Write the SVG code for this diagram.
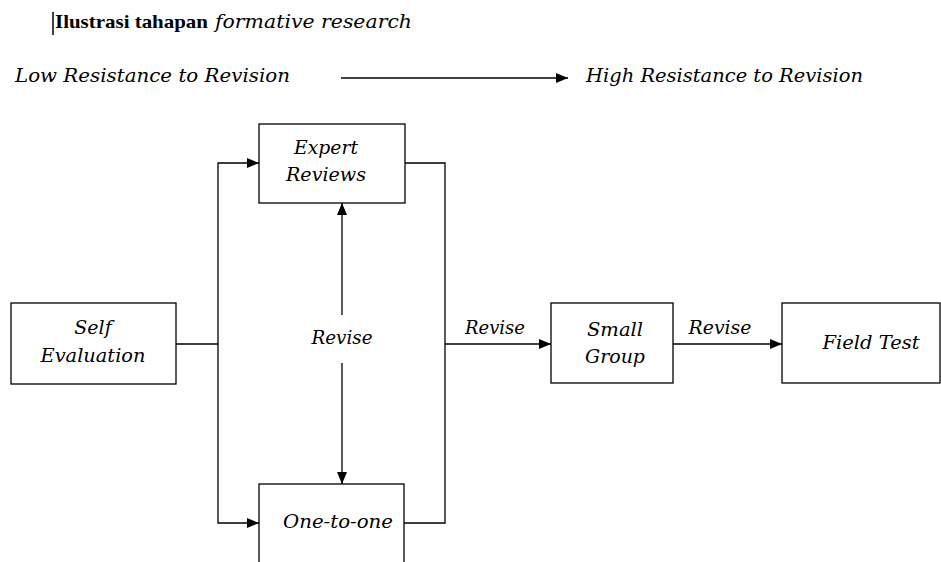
<svg xmlns="http://www.w3.org/2000/svg" width="941" height="562" viewBox="0 0 941 562">
<style>
.t{font-family:"DejaVu Serif","Liberation Serif",serif;font-style:italic;font-size:19px;fill:#000}
.b{fill:#fff;stroke:#000;stroke-width:1.3}
.c{fill:none;stroke:#000;stroke-width:1.3}
</style>
<defs>
<marker id="ah" viewBox="0 0 12 10" refX="12" refY="5" markerWidth="12" markerHeight="10" markerUnits="userSpaceOnUse" orient="auto"><path d="M0,0 L12,5 L0,10 z" fill="#000"/></marker>
</defs>
<rect width="941" height="562" fill="#fff"/>
<g id="title">
<line x1="53" y1="12" x2="53" y2="35" stroke="#000" stroke-width="1.5"/>
<text x="55" y="28" font-family="Liberation Serif,serif" font-weight="bold" font-size="19" textLength="153" lengthAdjust="spacingAndGlyphs">Ilustrasi tahapan</text>
<text x="215" y="28" class="t" textLength="197" lengthAdjust="spacingAndGlyphs">formative research</text>
</g>
<g id="scale">
<text x="15" y="82" class="t" textLength="275" lengthAdjust="spacingAndGlyphs">Low Resistance to Revision</text>
<text x="586" y="82" class="t" textLength="277" lengthAdjust="spacingAndGlyphs">High Resistance to Revision</text>
</g>
<g id="connectors">
<line x1="341" y1="78" x2="568" y2="78" class="c" marker-end="url(#ah)"/>
<polyline points="176,344 218,344" class="c"/>
<polyline points="218,344 218,163 259,163" class="c" marker-end="url(#ah)"/>
<polyline points="218,344 218,523 259,523" class="c" marker-end="url(#ah)"/>
<polyline points="405,163 445,163 445,523 404,523" class="c"/>
<line x1="342" y1="315" x2="342" y2="203" class="c" marker-end="url(#ah)"/>
<line x1="342" y1="363" x2="342" y2="484" class="c" marker-end="url(#ah)"/>
<line x1="445" y1="344" x2="551" y2="344" class="c" marker-end="url(#ah)"/>
<line x1="673" y1="344" x2="782" y2="344" class="c" marker-end="url(#ah)"/>
<text x="342" y="344" class="t" text-anchor="middle" textLength="61" lengthAdjust="spacingAndGlyphs">Revise</text>
<text x="495" y="334" class="t" text-anchor="middle" textLength="60" lengthAdjust="spacingAndGlyphs">Revise</text>
<text x="720" y="334" class="t" text-anchor="middle" textLength="63" lengthAdjust="spacingAndGlyphs">Revise</text>
</g>
<g id="self-evaluation">
<rect x="11" y="303" width="165" height="81" class="b"/>
<text x="93" y="334" class="t" text-anchor="middle">Self</text>
<text x="93" y="362" class="t" text-anchor="middle" textLength="105" lengthAdjust="spacingAndGlyphs">Evaluation</text>
</g>
<g id="expert-reviews">
<rect x="259" y="124" width="146" height="79" class="b"/>
<text x="326" y="154" class="t" text-anchor="middle" textLength="64" lengthAdjust="spacingAndGlyphs">Expert</text>
<text x="326" y="181" class="t" text-anchor="middle" textLength="80" lengthAdjust="spacingAndGlyphs">Reviews</text>
</g>
<g id="one-to-one">
<rect x="259" y="484" width="145" height="90" class="b"/>
<text x="338" y="528" class="t" text-anchor="middle" textLength="110" lengthAdjust="spacingAndGlyphs">One-to-one</text>
</g>
<g id="small-group">
<rect x="551" y="303" width="122" height="80" class="b"/>
<text x="615" y="336" class="t" text-anchor="middle" textLength="56" lengthAdjust="spacingAndGlyphs">Small</text>
<text x="615" y="363" class="t" text-anchor="middle" textLength="60" lengthAdjust="spacingAndGlyphs">Group</text>
</g>
<g id="field-test">
<rect x="782" y="303" width="158" height="80" class="b"/>
<text x="871" y="349" class="t" text-anchor="middle" textLength="97" lengthAdjust="spacingAndGlyphs">Field Test</text>
</g>
</svg>
